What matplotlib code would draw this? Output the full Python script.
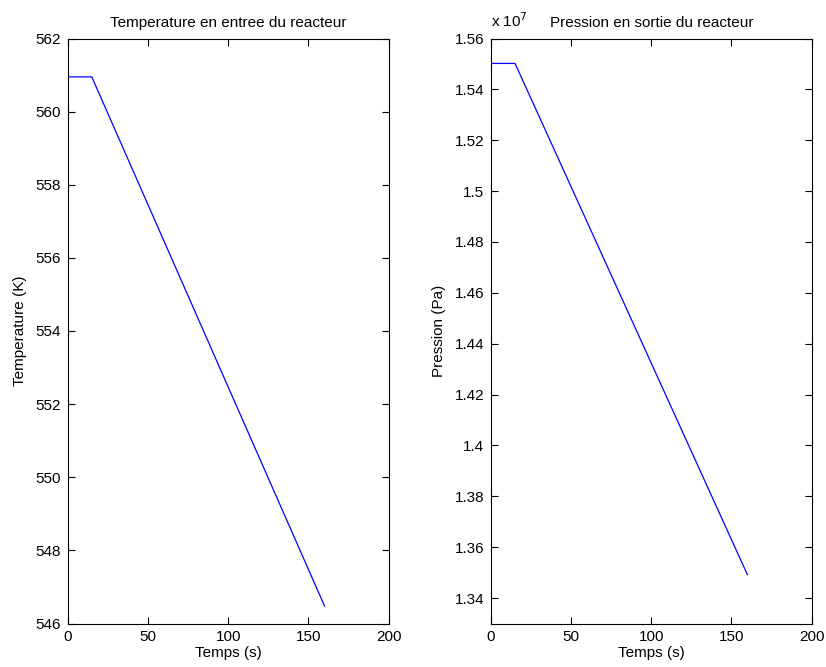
import matplotlib
matplotlib.use("Agg")
import matplotlib.pyplot as plt
from matplotlib.ticker import FuncFormatter

plt.rcParams['font.family'] = ['Liberation Sans', 'DejaVu Sans']
plt.rcParams['font.size'] = 11

# Data
temps = [0, 15, 160]
temperature = [560.95, 560.95, 546.48]
pression = [1.5502e7, 1.5502e7, 1.3492e7]

x_ticks = [0, 50, 100, 150, 200]
t_ticks = [546, 548, 550, 552, 554, 556, 558, 560, 562]
p_ticks = [1.34, 1.36, 1.38, 1.40, 1.42, 1.44, 1.46, 1.48, 1.50, 1.52, 1.54, 1.56]

W, H = 826, 667
fig = plt.figure(figsize=(W / 100, H / 100), dpi=100)

bottom = 1 - 623.5 / H
height = (623.5 - 38.5) / H
ax1 = fig.add_axes([67.7 / W, bottom, 321 / W, height])
ax2 = fig.add_axes([491 / W, bottom, 320.5 / W, height])

def style(ax):
    ax.tick_params(direction='in', length=5, width=0.8, top=True, right=True,
                   labelsize=11, pad=5)
    for s in ax.spines.values():
        s.set_linewidth(0.8)
    ax.set_xlim(0, 200)
    ax.set_xticks(x_ticks)
    ax.set_xlabel('Temps (s)', fontsize=11, labelpad=1)

ax1.plot(temps, temperature, color='#0000ff', linewidth=0.9)
style(ax1)
ax1.set_ylim(546, 562)
ax1.set_yticks(t_ticks)
ax1.set_ylabel('Temperature (K)', fontsize=11, labelpad=6)
ax1.set_title('Temperature en entree du reacteur', fontsize=11, pad=8)

ax2.plot(temps, [p / 1e7 for p in pression], color='#0000ff', linewidth=0.9)
style(ax2)
ax2.set_ylim(1.33, 1.56)
ax2.set_yticks(p_ticks)
ax2.yaxis.set_major_formatter(FuncFormatter(lambda v, pos: '%g' % round(v, 4)))
ax2.set_ylabel('Pression (Pa)', fontsize=11, labelpad=6)
ax2.set_title('Pression en sortie du reacteur', fontsize=11, pad=8)
ax2.text(0.0, 1.015, 'x 10$^{7}$', transform=ax2.transAxes, fontsize=11,
         ha='left', va='bottom')

fig.savefig('out.png', dpi=100)
